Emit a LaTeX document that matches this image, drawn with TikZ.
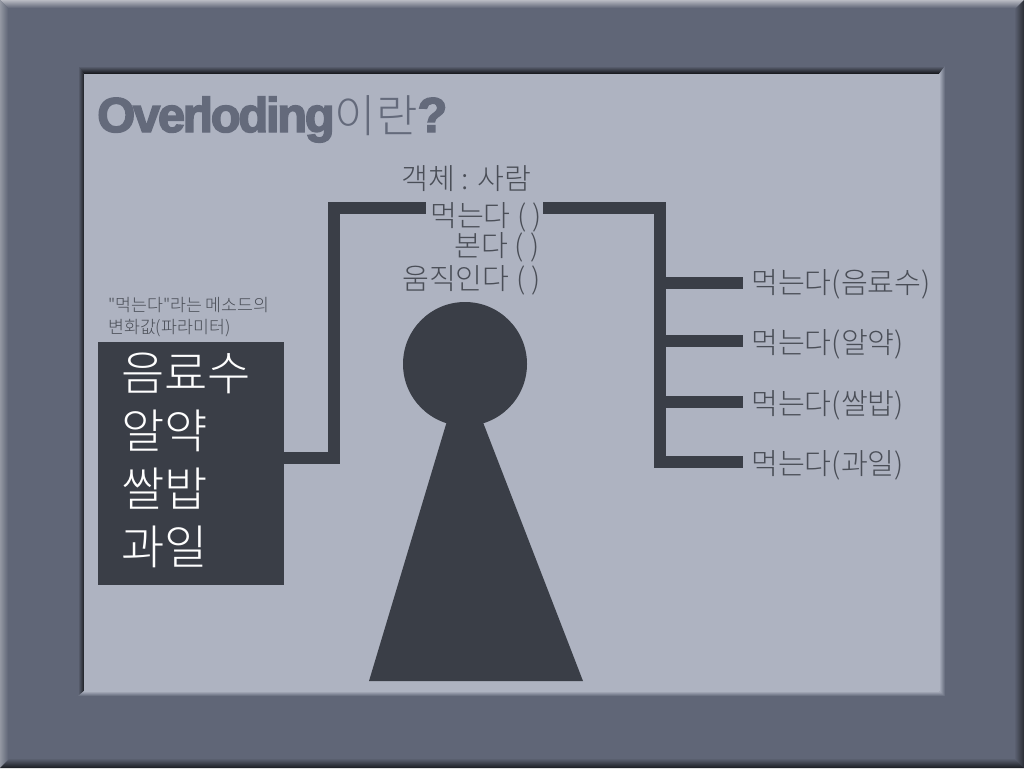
\documentclass[tikz,border=0pt]{standalone}
\usepackage{fontspec}
\setmainfont{Liberation Sans}
\newfontfamily\kr{Noto Sans CJK KR Light}
\newfontfamily\titlefont[LetterSpace=-4.8,FakeBold=3]{Liberation Sans Bold}
\newfontfamily\qfont[FakeBold=3]{Liberation Sans Bold}
\definecolor{frameC}{HTML}{606677}
\definecolor{panelC}{HTML}{AEB3C1}
\definecolor{inkC}{HTML}{3A3E47}
\definecolor{textC}{HTML}{4A4E57}
\definecolor{titleC}{HTML}{646A7B}
\definecolor{hiC}{HTML}{B8BAC2}
\definecolor{hiL}{HTML}{9397A2}
\definecolor{loR}{HTML}{2A2C33}
\definecolor{loB}{HTML}{191B20}
\definecolor{shT}{HTML}{101115}
\definecolor{shL}{HTML}{1C1E23}
\definecolor{midT}{HTML}{24262D}
\definecolor{midL}{HTML}{33363F}
\definecolor{midG}{HTML}{7E8394}
\tikzset{
  label/.style={font=\kr\fontsize{29.2}{29.2}\selectfont,text=textC,inner sep=0pt,anchor=base west},
  boxtext/.style={font=\kr\fontsize{47}{47}\selectfont,text=white,inner sep=0pt,anchor=base west},
  small/.style={font=\kr\fontsize{17.3}{17.3}\selectfont,text=textC,inner sep=0pt,anchor=base west},
  bar/.style={draw=inkC,line width=12pt,line join=miter},
  body/.style={fill=inkC,draw=none}
}
\begin{document}
\begin{tikzpicture}[x=1pt,y=-1pt]
\useasboundingbox (0,0) rectangle (1024,768);
\fill[frameC] (0,0) rectangle (1024,768);
% outer bevel
\begin{scope}\clip (0,0)--(1024,0)--(1016,8)--(8,8)--cycle;
\shade[top color=hiC,bottom color=frameC] (0,0) rectangle (1024,8);\end{scope}
\begin{scope}\clip (0,0)--(8,8)--(8,760)--(0,768)--cycle;
\shade[left color=hiL,right color=frameC] (0,0) rectangle (8,768);\end{scope}
\begin{scope}\clip (1024,0)--(1014,10)--(1014,758)--(1024,768)--cycle;
\shade[left color=frameC,right color=loR] (1014,0) rectangle (1024,768);\end{scope}
\begin{scope}\clip (0,768)--(10,758)--(1014,758)--(1024,768)--cycle;
\shade[top color=frameC,bottom color=loB] (0,758) rectangle (1024,768);\end{scope}
% inner bevel
\begin{scope}\clip (78,66)--(945,66)--(939,74)--(84,74)--cycle;
\shade[top color=frameC,middle color=midT,bottom color=shT] (78,66) rectangle (945,74);\end{scope}
\begin{scope}\clip (78,66)--(84,74)--(84,691)--(78,696)--cycle;
\shade[left color=frameC,middle color=midL,right color=shL] (78,66) rectangle (84,696);\end{scope}
\begin{scope}\clip (945,66)--(939,74)--(939,691)--(945,696)--cycle;
\shade[left color=panelC,middle color=midG,right color=frameC] (939,66) rectangle (945,696);\end{scope}
\begin{scope}\clip (78,696)--(84,691)--(939,691)--(945,696)--cycle;
\shade[top color=panelC,middle color=midG,bottom color=frameC] (78,691) rectangle (945,696);\end{scope}
\fill[panelC] (84,74) rectangle (939,691);
% title
\node[inner sep=0pt,anchor=base west,text=titleC] (title) at (97,132)
  {\titlefont\fontsize{49}{49}\selectfont Overloding\kr\fontsize{45}{45}\selectfont 이란\qfont\fontsize{49}{49}\selectfont ?};
% centre texts
\node[label] (obj) at (401,189) {객체 : 사람};
\node[label] (eat) at (430,226) {먹는다 ( )};
\node[label] (see) at (454,256) {본다 ( )};
\node[label] (move) at (402,289) {움직인다 ( )};
% person
\node[body,circle,minimum size=124pt,inner sep=0pt] (head) at (465,364) {};
\fill[inkC] (447,421)--(482.5,421)--(583,681)--(369,681)--cycle;
% left box
\node[small] (cap1) at (108,311) {"먹는다"라는 메소드의};
\node[small] (cap2) at (108,333) {변화값(파라미터)};
\node[fill=inkC,minimum width=186pt,minimum height=243pt,inner sep=0pt] (box) at (191,463.5) {};
\node[boxtext] (b1) at (121,390) {음료수};
\node[boxtext] (b2) at (121,448) {알약};
\node[boxtext] (b3) at (121,506) {쌀밥};
\node[boxtext] (b4) at (121,564) {과일};
% right labels
\node[label] (r1) at (751,293) {먹는다(음료수)};
\node[label] (r2) at (751,353) {먹는다(알약)};
\node[label] (r3) at (751,414) {먹는다(쌀밥)};
\node[label] (r4) at (751,474) {먹는다(과일)};
% connectors
\coordinate (boxout) at (box.east |- 0,458);
\coordinate (eatL) at (426,208);
\coordinate (eatR) at (543,208);
\coordinate (e1) at (743,283);
\coordinate (e2) at (743,341);
\coordinate (e3) at (743,402);
\coordinate (e4) at (743,462);
\draw[bar] (boxout) -| (334,208) -- (eatL);
\draw[bar] (eatR) -| (660,462) -- (e4);
\draw[bar] (660,283) -- (e1);
\draw[bar] (660,341) -- (e2);
\draw[bar] (660,402) -- (e3);
\end{tikzpicture}
\end{document}
